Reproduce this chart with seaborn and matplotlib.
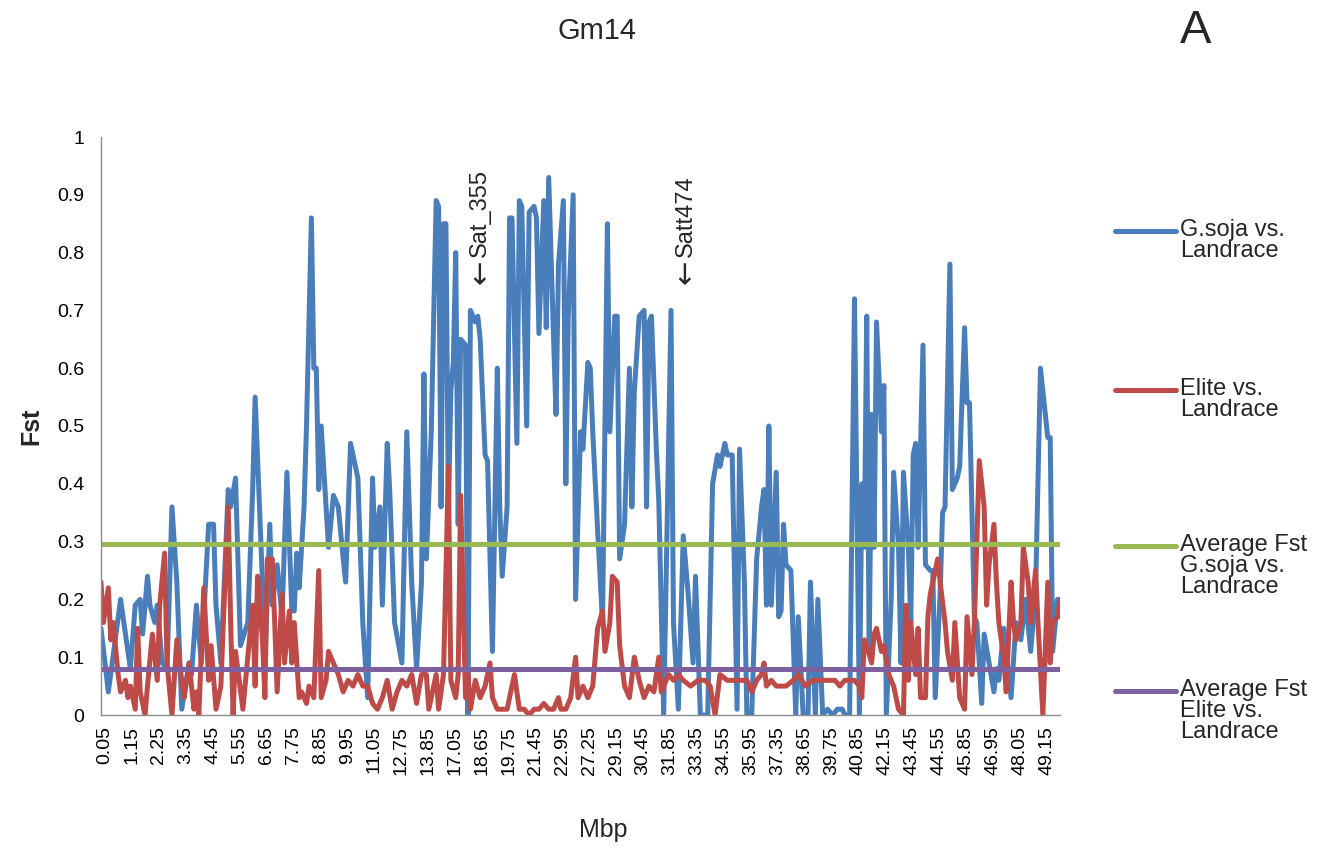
import matplotlib
matplotlib.use("Agg")
import matplotlib.pyplot as plt
import matplotlib.transforms as mtransforms
import seaborn as sns
from matplotlib.lines import Line2D

# ---------------- data ----------------
tick_labels = ["0.05", "1.15", "2.25", "3.35", "4.45", "5.55", "6.65", "7.75", "8.85",
               "9.95", "11.05", "12.75", "13.85", "17.05", "18.65", "19.75", "21.45",
               "22.95", "27.25", "29.15", "30.45", "31.85", "33.35", "34.55", "35.95",
               "37.35", "38.65", "39.75", "40.85", "42.15", "43.45", "44.55", "45.85",
               "46.95", "48.05", "49.15"]
label_step = 11      # one label every 11 windows
n_windows = 393      # number of windows (categories) on the x axis

# G.soja vs. Landrace : window index -> Fst
blue_idx = [0, 3, 8, 11, 12, 14, 16, 17, 19, 20, 22, 23, 25, 27, 29, 31, 33, 36, 37, 39,
            41, 44, 46, 47, 49, 52, 53, 55, 57, 60, 62, 63, 66, 67, 69, 70, 72, 74, 76, 78,
            79, 80, 81, 83, 84, 86, 87, 88, 89, 90, 92, 93, 95, 97, 99, 100, 102, 104, 105, 107,
            109, 111, 112, 114, 115, 117, 118, 120, 123, 125, 127, 129, 131, 132,
            133, 135, 137, 138, 139, 140, 141, 142, 143, 144, 145, 146, 147, 149, 150, 151,
            153, 154, 155, 157, 158, 160, 162, 163, 164, 166, 167, 168, 170, 171, 172, 174,
            175, 177, 178, 179, 181, 182, 183, 185, 186, 187, 189, 190, 191, 193, 194, 196,
            197, 199, 200, 201, 203, 205, 207, 208, 210, 211, 212, 214, 216, 217, 218, 220,
            222, 223, 224, 225, 227, 228, 230, 233, 234, 236, 238, 239, 240, 242, 243, 245,
            248, 250, 252, 253, 255, 256, 258, 260, 261, 263, 264,
            266, 268, 270, 271, 272, 273, 274, 276, 277, 278, 279, 280, 282, 284, 285, 287,
            289, 290, 292, 293, 295, 297, 299, 301, 303, 304, 306, 308, 310, 311, 312, 313,
            314, 315, 316, 317, 319, 320, 321, 323, 324, 326, 327, 328, 330, 331, 332, 333,
            334, 336, 337, 339, 340, 341, 343, 344, 345, 347, 348, 350, 351, 353, 354, 355,
            357, 358, 360, 361, 363, 365, 366, 367, 369, 372, 374, 376, 378, 380, 382, 384,
            385, 387, 388, 389, 391, 392]
blue_fst = [0.15, 0.04, 0.20, 0.11, 0.08, 0.19, 0.20, 0.14, 0.24, 0.19, 0.16, 0.19, 0.09, 0.08, 0.36, 0.23, 0.01, 0.09, 0.07, 0.19,
            0.09, 0.33, 0.33, 0.19, 0.09, 0.39, 0.36, 0.41, 0.12, 0.16, 0.39, 0.55, 0.23, 0.09, 0.33, 0.19, 0.26, 0.17, 0.42, 0.18,
            0.18, 0.28, 0.22, 0.36, 0.50, 0.86, 0.60, 0.60, 0.39, 0.50, 0.36, 0.29, 0.38, 0.36, 0.27, 0.23, 0.47, 0.43, 0.41, 0.16,
            0.03, 0.41, 0.29, 0.36, 0.19, 0.47, 0.39, 0.16, 0.09, 0.49, 0.23, 0.08, 0.23, 0.59,
            0.27, 0.49, 0.89, 0.88, 0.36, 0.85, 0.85, 0.35, 0.56, 0.61, 0.80, 0.33, 0.65, 0.64, 0.00, 0.70,
            0.68, 0.69, 0.65, 0.45, 0.44, 0.11, 0.60, 0.36, 0.24, 0.36, 0.86, 0.86, 0.47, 0.89, 0.88, 0.50,
            0.87, 0.88, 0.86, 0.66, 0.89, 0.67, 0.93, 0.65, 0.52, 0.78, 0.89, 0.40, 0.69, 0.90, 0.20, 0.49,
            0.46, 0.61, 0.60, 0.49, 0.32, 0.16, 0.85, 0.49, 0.69, 0.69, 0.27, 0.33, 0.60, 0.36, 0.56, 0.69,
            0.70, 0.36, 0.68, 0.69, 0.46, 0.37, 0.00, 0.70, 0.16, 0.01, 0.31, 0.26, 0.21, 0.09, 0.24, 0.00,
            0.00, 0.40, 0.45, 0.43, 0.47, 0.45, 0.45, 0.01, 0.46, 0.23, 0.00,
            0.00, 0.27, 0.36, 0.39, 0.19, 0.50, 0.19, 0.42, 0.17, 0.18, 0.33, 0.26, 0.25, 0.00, 0.17, 0.00,
            0.00, 0.23, 0.00, 0.20, 0.00, 0.01, 0.00, 0.01, 0.01, 0.00, 0.00, 0.72, 0.00, 0.40, 0.29, 0.69,
            0.11, 0.52, 0.29, 0.68, 0.49, 0.57, 0.00, 0.20, 0.42, 0.29, 0.09, 0.42, 0.29, 0.16, 0.45, 0.47,
            0.29, 0.64, 0.26, 0.25, 0.25, 0.03, 0.21, 0.35, 0.36, 0.78, 0.39, 0.41, 0.43, 0.67, 0.54, 0.54,
            0.17, 0.16, 0.02, 0.14, 0.09, 0.04, 0.08, 0.06, 0.15, 0.03, 0.16, 0.13, 0.20, 0.11, 0.21, 0.60,
            0.56, 0.48, 0.48, 0.11, 0.20, 0.17]

# Elite vs. Landrace : window index -> Fst
red_idx = [0, 1, 3, 4, 5, 7, 8, 10, 11, 12, 14, 15, 16, 18, 19, 21, 23, 24, 26, 27,
           29, 31, 33, 34, 36, 38, 39, 40, 42, 44, 45, 47, 49, 50, 52, 53, 54, 55, 58, 60,
           62, 63, 64, 66, 67, 68, 70, 71, 72, 74, 75, 77, 78, 79, 81, 82, 84, 85, 87, 89,
           90, 92, 93, 95, 97, 99, 101, 103, 105, 107, 109, 111, 113, 115, 117, 119, 121, 123, 125, 127,
           129, 131, 133,
           134, 136, 137, 138, 140, 142, 143, 145, 146, 147, 149, 150, 151, 153, 155, 157, 159, 160, 162, 164,
           166, 169, 171, 173, 175, 177, 179, 181, 183, 185, 187, 188, 190, 192, 194, 195, 197, 199, 201, 203,
           205, 206, 208, 209, 211, 212, 214, 216, 218, 220, 222, 224, 226, 228, 229, 232, 234, 236, 238, 241,
           244, 247, 249, 251, 253, 256, 259, 262,
           264, 266, 268, 270, 271, 272, 274, 276, 278, 280, 283, 285, 288, 291, 293, 296, 300, 302, 304, 308,
           310, 311, 312, 313, 315, 316, 317, 319, 320, 322, 324, 325, 326, 328, 329, 330, 331, 333, 334, 335,
           337, 338, 339, 341, 342, 343, 345, 346, 348, 349, 351, 353, 354, 356, 357, 359, 361, 362, 363, 365,
           366, 367, 369, 370, 372, 373, 374, 376, 377, 379, 380, 382, 383, 385, 387, 388, 389, 391, 392]
red_fst = [0.23, 0.16, 0.22, 0.13, 0.16, 0.07, 0.04, 0.06, 0.03, 0.05, 0.01, 0.15, 0.04, 0.00, 0.05, 0.14, 0.06, 0.19, 0.28, 0.09,
           0.00, 0.13, 0.06, 0.03, 0.09, 0.01, 0.04, 0.00, 0.22, 0.06, 0.12, 0.01, 0.05, 0.16, 0.36, 0.16, 0.00, 0.11, 0.01, 0.10,
           0.19, 0.05, 0.24, 0.13, 0.03, 0.27, 0.27, 0.16, 0.04, 0.21, 0.09, 0.18, 0.09, 0.16, 0.03, 0.04, 0.02, 0.05, 0.03, 0.25,
           0.03, 0.06, 0.11, 0.09, 0.07, 0.04, 0.06, 0.05, 0.07, 0.05, 0.05, 0.02, 0.01, 0.03, 0.06, 0.01, 0.04, 0.06, 0.05, 0.07,
           0.02, 0.07, 0.07,
           0.01, 0.05, 0.07, 0.01, 0.07, 0.43, 0.06, 0.03, 0.07, 0.38, 0.03, 0.07, 0.01, 0.06, 0.03, 0.05, 0.09, 0.03, 0.01, 0.01,
           0.01, 0.07, 0.01, 0.01, 0.00, 0.01, 0.01, 0.02, 0.01, 0.01, 0.03, 0.01, 0.01, 0.03, 0.10, 0.03, 0.05, 0.03, 0.05, 0.15,
           0.18, 0.11, 0.16, 0.24, 0.23, 0.12, 0.05, 0.03, 0.10, 0.06, 0.03, 0.05, 0.04, 0.10, 0.04, 0.07, 0.06, 0.07, 0.06, 0.05,
           0.06, 0.06, 0.05, 0.00, 0.07, 0.06, 0.06, 0.06,
           0.06, 0.04, 0.06, 0.07, 0.09, 0.05, 0.06, 0.05, 0.05, 0.05, 0.06, 0.07, 0.05, 0.06, 0.06, 0.06, 0.06, 0.05, 0.06, 0.06,
           0.05, 0.03, 0.13, 0.12, 0.09, 0.14, 0.15, 0.11, 0.12, 0.07, 0.05, 0.03, 0.01, 0.00, 0.19, 0.06, 0.16, 0.07, 0.15, 0.03,
           0.03, 0.17, 0.21, 0.25, 0.27, 0.23, 0.16, 0.11, 0.06, 0.16, 0.03, 0.01, 0.17, 0.07, 0.16, 0.44, 0.36, 0.19, 0.26, 0.33,
           0.23, 0.16, 0.10, 0.04, 0.23, 0.16, 0.13, 0.16, 0.29, 0.23, 0.16, 0.25, 0.16, 0.00, 0.23, 0.09, 0.16, 0.17, 0.20]

avg_gsoja = 0.296   # Average Fst G.soja vs. Landrace
avg_elite = 0.080   # Average Fst Elite vs. Landrace

series_names = ["G.soja vs.\nLandrace", "Elite vs.\nLandrace",
                "Average Fst\nG.soja vs.\nLandrace", "Average Fst\nElite vs.\nLandrace"]
series_colors = ["#4A7EBB", "#BE4B48", "#98B954", "#7D60A0"]

marker_names = ["Sat_355", "Satt474"]
marker_windows = [155, 239]

# ---------------- figure ----------------
sns.set_theme(style="white")
plt.rcParams['font.family'] = ['Liberation Sans', 'DejaVu Sans']

W, H = 1325, 851
fig = plt.figure(figsize=(W / 100, H / 100), dpi=100)
L, R, T, B = 101, 1060, 137, 715
ax = fig.add_axes([L / W, 1 - B / H, (R - L) / W, (B - T) / H])

lw = 3.6
sns.lineplot(x=blue_idx, y=blue_fst, ax=ax, color=series_colors[0], lw=lw,
             estimator=None, sort=False, solid_joinstyle="round", solid_capstyle="round")
sns.lineplot(x=red_idx, y=red_fst, ax=ax, color=series_colors[1], lw=lw,
             estimator=None, sort=False, solid_joinstyle="round", solid_capstyle="round")
x_full = [0, n_windows - 1]
sns.lineplot(x=x_full, y=[avg_gsoja, avg_gsoja], ax=ax, color=series_colors[2], lw=lw,
             estimator=None, sort=False, solid_capstyle="round")
sns.lineplot(x=x_full, y=[avg_elite, avg_elite], ax=ax, color=series_colors[3], lw=lw,
             estimator=None, sort=False, solid_capstyle="round")

ax.set_xlim(0, n_windows - 1)
ax.set_ylim(0, 1)

# axes styling
for s in ["top", "right"]:
    ax.spines[s].set_visible(False)
for s in ["left", "bottom"]:
    ax.spines[s].set_color("#8C8C8C")
    ax.spines[s].set_linewidth(1.0)

yt = [i / 10 for i in range(11)]
ax.set_yticks(yt)
ax.set_yticklabels(["0" if v == 0 else ("1" if v == 1 else f"{v:.1f}") for v in yt])
ax.tick_params(axis="y", length=0, pad=12, labelsize=14, colors="black")

label_pos = [i * label_step for i in range(len(tick_labels))]
ax.set_xticks(label_pos)
ax.set_xticklabels(tick_labels, rotation=90, va="top", ha="center")
ax.tick_params(axis="x", which="major", length=0, pad=8, labelsize=14, colors="black")
shift = mtransforms.ScaledTranslation(4 / 100, 0, fig.dpi_scale_trans)
for lab in ax.get_xticklabels():
    lab.set_transform(lab.get_transform() + shift)
ax.set_xticks(list(range(0, n_windows, 10)), minor=True)
ax.tick_params(axis="x", which="minor", length=5, width=1, color="#8C8C8C", direction="out")

ax.set_ylabel("Fst", fontsize=18, fontweight="bold", labelpad=10)
ax.set_xlabel("Mbp", fontsize=18)
ax.xaxis.set_label_coords((603 - L) / (R - L), (B - 818) / (B - T))

# marker annotations: arrow glyph + name, rotated
for name, pos in zip(marker_names, marker_windows):
    ax.text(pos, (B - 284) / (B - T), "\u2190", rotation=90, ha="center", va="bottom",
            fontsize=21, family=["DejaVu Sans"])
    ax.text(pos, (B - 257) / (B - T), name, rotation=90, ha="center", va="bottom",
            fontsize=17)

# titles
fig.text(597 / W, 1 - 31 / H, "Gm14", ha="center", va="center", fontsize=21)
fig.text(1196 / W, 1 - 31 / H, "A", ha="center", va="center", fontsize=34)

# legend (manual, handle aligned with first text line)
leg_y = [231, 390, 546, 691]
for name, col, y in zip(series_names, series_colors, leg_y):
    fig.add_artist(Line2D([1115 / W, 1176 / W], [1 - y / H, 1 - y / H], color=col, lw=lw,
                          solid_capstyle="round", transform=fig.transFigure))
    fig.text(1180 / W, 1 - (y - 12) / H, name, ha="left", va="top", fontsize=17,
             linespacing=0.95)

fig.savefig("out.png", dpi=100)
